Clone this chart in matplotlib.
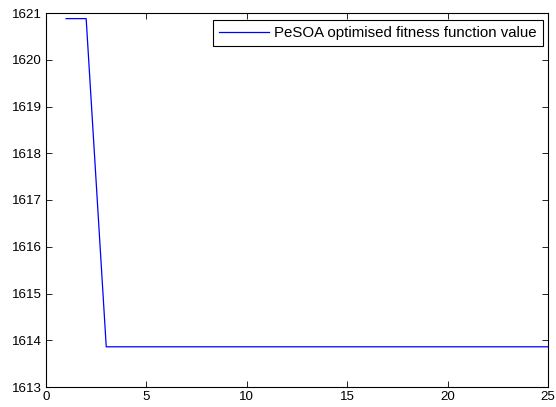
import matplotlib
matplotlib.use('Agg')
from matplotlib import pyplot as plt

# fitness value per iteration
iterations = list(range(1, 26))
fitness = [1620.88, 1620.88] + [1613.86] * 23

plt.rcParams['font.family'] = ['Liberation Sans', 'DejaVu Sans']
plt.rcParams['font.size'] = 9.6

fig = plt.figure(figsize=(5.56, 4.07), dpi=100)
ax = fig.add_axes([46 / 556, 1 - 387 / 407, (548 - 46) / 556, (387 - 13) / 407])
ax.plot(iterations, fitness, color='blue', linewidth=0.9,
        label='PeSOA optimised fitness function value')
ax.set_xlim(0, 25)
ax.set_ylim(1613, 1621)
ax.set_xticks([0, 5, 10, 15, 20, 25])
ax.set_yticks(range(1613, 1622))
ax.tick_params(direction='in', top=True, right=True, length=4, width=0.6, pad=3)
for s in ax.spines.values():
    s.set_linewidth(0.8)
leg = ax.legend(loc='upper right', bbox_to_anchor=(0.990, 0.981), fancybox=False,
                framealpha=1, fontsize=10.8, edgecolor='black', borderaxespad=0,
                handlelength=3.35, handletextpad=0.35, borderpad=0.4)
leg.get_frame().set_linewidth(0.8)

fig.savefig('out.png', dpi=100)
